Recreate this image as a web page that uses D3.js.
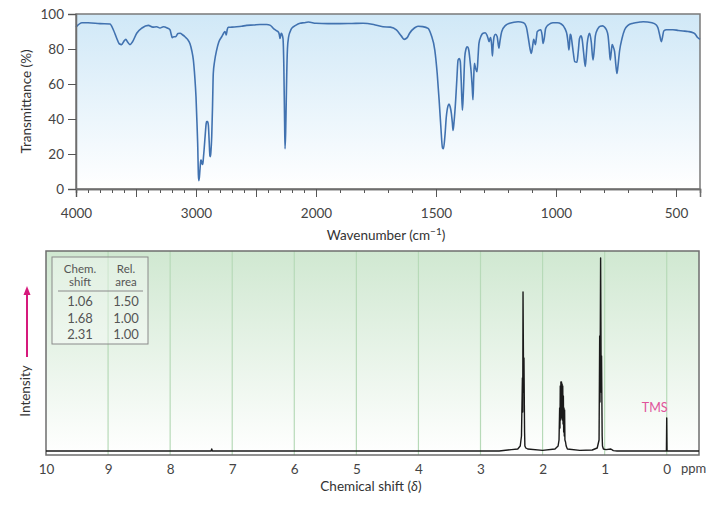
<!DOCTYPE html>
<html>
<head>
<meta charset="utf-8">
<script src="https://cdn.jsdelivr.net/npm/d3@7"></script>
<style>
  body { margin: 0; background: #fff; }
  text { font-family: Lato, "Open Sans", sans-serif; }
</style>
</head>
<body>
<div id="chart"></div>
<script>
// IR spectrum (wavenumber cm-1, transmittance %)
var irWave = [4000,3950,3900,3800,3717,3689,3660,3640,3620,3600,3585,3570,3550,3530,3494,3450,3397,3360,3328,3300,
  3272,3240,3217,3205,3198,3185,3170,3150,3133,3110,3092,3070,3050,3035,3022,3010,3000,2990,2986,2980,
  2977,2973,2967,2960,2956,2950,2944,2938,2933,2922,2915,2911,2904,2897,2890,2884,2880,2876,2869,2862,
  2856,2845,2828,2810,2786,2770,2760,2752,2748,2740,2731,2700,2661,2620,2578,2520,2467,2411,2380,2356,
  2330,2314,2305,2300,2295,2290,2284,2275,2268,2262,2258,2253,2248,2244,2238,2228,2215,2203,2170,2133,
  2100,2064,2000,1950,1900,1850,1804,1760,1721,1690,1665,1645,1633,1620,1610,1590,1575,1555,1533,1520,
  1505,1495,1487,1480,1473,1469,1463,1457,1450,1446,1441,1436,1432,1429,1425,1418,1413,1408,1403,1399,
  1395,1390,1386,1380,1375,1371,1367,1363,1358,1353,1349,1346,1343,1340,1335,1329,1325,1321,1312,1304,
  1295,1288,1283,1279,1275,1272,1268,1265,1262,1258,1252,1245,1241,1238,1234,1226,1210,1193,1158,1135,
  1124,1115,1108,1103,1098,1093,1089,1086,1082,1078,1064,1058,1054,1049,1043,1030,1013,995,978,962,
  954,950,946,943,941,938,935,928,922,913,907,902,896,891,885,878,874,870,865,860,
  853,846,841,836,826,816,806,797,790,783,778,774,770,766,761,756,750,746,742,735,
  725,714,700,679,650,637,600,582,575,568,561,556,551,540,513,490,471,450,429,420,
  411,400];
var irTrans = [92.5,95,95,94.5,94.3,91,86,83,82.5,84.5,85.5,84,82.5,84,89,92,93.5,92.5,92.7,92,
  92.7,92,91,88,86.5,87,87,88.8,89,88,87,85.5,83,79,73.7,64,52.7,34,26,8,
  4.8,6,11,16.5,16.6,14.5,14,18,22,32,37.5,38.5,38.5,36.5,27,19,18.5,21,30,48,
  66,73,79.4,84,87,89,90,89,88,91,92.4,92.5,92.7,93,93.5,93.7,94,94,93.5,91.8,
  90.5,89.7,88,86,87.5,89,88.5,86,70,40,23,32,50,65,80,87,90,91.8,93.5,94.7,
  95,95.4,94.7,94.5,94.5,94.6,94.7,94,92.7,92.5,90.9,87.5,85.5,86.5,89,92,93,92.8,91.8,88,
  79.4,66,50.9,36,23.5,23,30,41.3,47.5,48.6,47,43.2,38,33.5,38,50.9,63,73.7,74.5,73,
  62,45,55,75.6,80,81.3,81,79,73,66,58,51,63,71.8,69,67,75,83.2,87.5,89,
  89.3,88,86,84.2,86,86.5,82,76,82,87,88.4,87,83,80.5,84,90,93.5,94.7,95.6,95,
  92.7,86,80,77.5,81,85.5,84,82.5,86,90,91,88,83.2,86,91.8,94,95,95,94.3,91.5,
  88,84,79.4,84,88.4,88,85.5,78,72.8,72.4,79,86,87.5,85.5,78,70,76,83.2,87.5,89,
  84,73.7,79,87.5,91.5,93,93.2,92.4,91,87.5,80,73.7,78,82.5,81,78.6,70,66,70,79,
  86,91,93.5,94.7,95.4,95.6,95,93.7,92,88,84.2,87,90.3,91,91,90.6,90.3,90,89.3,88.5,
  86.7,85.5];
var irYTicks = [0, 20, 40, 60, 80, 100];
var irXLabels = [4000, 3000, 2000, 1500, 1000, 500];
var irXMajor = [4000, 3500, 3000, 2500, 2000, 1500, 1000, 500];

// 1H NMR spectrum (ppm, relative intensity)
var nmrShift = [10,7.34,7.33,7.32,2.7,2.5,2.4,2.36,2.34,2.325,2.32,2.315,2.305,2.3,2.29,2.285,2.27,2.24,2.0,1.8,
  1.75,1.735,1.725,1.72,1.715,1.71,1.705,1.70,1.695,1.69,1.685,1.68,1.675,1.67,1.665,1.66,1.655,1.65,1.645,1.64,
  1.63,1.62,1.60,1.4,1.2,1.12,1.09,1.08,1.075,1.065,1.055,1.05,1.04,1.035,1.02,0.98,0.9,0.86,0.8,0.02,
  0.005,0,-0.005,-0.52];
var nmrIntensity = [0.5,0.5,1.5,0.5,0.5,1.2,1.5,3,8,37,20,80,30,47,10,3,2,1.5,0.8,1.5,
  3,6,22,12,33,16,35,18,35,17,34,16,33,14,28,10,22,8,21,6,
  5,3,1.5,0.8,1,2,6,58,25,97,30,48,8,3,1.5,1.2,1.5,0.7,0.5,0.5,
  0.5,17,0.5,0.5];
var nmrXTicks = [10, 9, 8, 7, 6, 5, 4, 3, 2, 1, 0];
var tableShift = ["1.06", "1.68", "2.31"];
var tableArea = ["1.50", "1.00", "1.00"];

var W = 726, H = 505;

var svg = d3.select("#chart").append("svg")
    .attr("width", W)
    .attr("height", H);

var defs = svg.append("defs");
var gIr = defs.append("linearGradient").attr("id", "irBg").attr("x1", 0).attr("y1", 0).attr("x2", 0).attr("y2", 1);
gIr.append("stop").attr("offset", "0%").attr("stop-color", "#d0e8f7");
gIr.append("stop").attr("offset", "100%").attr("stop-color", "#ffffff");
var gNmr = defs.append("linearGradient").attr("id", "nmrBg").attr("x1", 0).attr("y1", 0).attr("x2", 0).attr("y2", 1);
gNmr.append("stop").attr("offset", "0%").attr("stop-color", "#d0e8d1");
gNmr.append("stop").attr("offset", "100%").attr("stop-color", "#ffffff");

// ---------- IR panel ----------
var irX = d3.scaleLinear().domain([4000, 2000, 400]).range([76, 316, 700]);
var irY = d3.scaleLinear().domain([0, 100]).range([189, 14]);

svg.append("rect")
    .attr("x", irX(4000)).attr("y", irY(100))
    .attr("width", irX(400) - irX(4000))
    .attr("height", irY(0) - irY(100))
    .style("fill", "url(#irBg)")
    .style("stroke", "#7a7a7a")
    .style("stroke-width", 1.5);

var irData = irWave.map(function(w, i) { return {w: w, t: irTrans[i]}; });
var irLine = d3.line()
    .x(function(d) { return irX(d.w); })
    .y(function(d) { return irY(d.t); })
    .curve(d3.curveMonotoneX);

svg.append("path")
    .datum(irData)
    .attr("d", irLine)
    .style("fill", "none")
    .style("stroke", "#4172b0")
    .style("stroke-width", 1.6);

// minor ticks every 100
var minor = d3.range(4000, 399, -100);
svg.append("g")
    .attr("class", "axis")
    .attr("transform", "translate(0," + irY(0) + ")")
    .call(d3.axisBottom(irX).tickValues(minor).tickSize(4).tickFormat(""));

svg.append("g")
    .attr("class", "axis")
    .attr("transform", "translate(0," + irY(0) + ")")
    .call(d3.axisBottom(irX).tickValues(irXMajor).tickSize(8).tickPadding(11)
        .tickFormat(function(d) { return irXLabels.indexOf(d) >= 0 ? d : ""; }));

svg.append("g")
    .attr("class", "axis")
    .attr("transform", "translate(" + irX(4000) + ",0)")
    .call(d3.axisLeft(irY).tickValues(irYTicks).tickSize(8).tickPadding(4));

svg.append("text")
    .attr("transform", "translate(31," + irY(50) + ") rotate(-90)")
    .style("text-anchor", "middle")
    .style("font-size", "13.5px")
    .style("fill", "#333")
    .text("Transmittance (%)");

var wl = svg.append("text")
    .attr("x", 386).attr("y", 240)
    .style("text-anchor", "middle")
    .style("font-size", "13.5px")
    .style("fill", "#333");
wl.append("tspan").text("Wavenumber (cm");
wl.append("tspan").attr("dy", -5).style("font-size", "10px").text("\u22121");
wl.append("tspan").attr("dy", 5).text(")");

// ---------- NMR panel ----------
var nX = d3.scaleLinear().domain([10, -0.52]).range([46, 699]);
var nY = d3.scaleLinear().domain([0, 100]).range([452, 252]);

svg.append("rect")
    .attr("x", nX(10)).attr("y", 251)
    .attr("width", nX(-0.52) - nX(10))
    .attr("height", 455 - 251)
    .style("fill", "url(#nmrBg)");

svg.append("g").selectAll("line")
    .data(nmrXTicks.slice(1))
    .enter().append("line")
    .attr("x1", function(d) { return nX(d); })
    .attr("x2", function(d) { return nX(d); })
    .attr("y1", 251).attr("y2", 455)
    .style("stroke", "#b7dab8")
    .style("stroke-width", 1.2);

svg.append("rect")
    .attr("x", nX(10)).attr("y", 251)
    .attr("width", nX(-0.52) - nX(10))
    .attr("height", 455 - 251)
    .style("fill", "none")
    .style("stroke", "#6e6e6e")
    .style("stroke-width", 1.5);

var nmrData = nmrShift.map(function(s, i) { return {s: s, v: nmrIntensity[i]}; });
svg.append("path")
    .datum(nmrData)
    .attr("d", d3.line()
        .x(function(d) { return nX(d.s); })
        .y(function(d) { return nY(d.v); }))
    .style("fill", "none")
    .style("stroke", "#1a1a1a")
    .style("stroke-width", 1.4)
    .style("stroke-linejoin", "round");

var nAxis = svg.append("g")
    .attr("class", "axis nmr")
    .attr("transform", "translate(0,455)")
    .call(d3.axisBottom(nX).tickValues(nmrXTicks).tickSize(0).tickPadding(9).tickFormat(d3.format("d")));
nAxis.select(".domain").remove();

svg.append("text")
    .attr("x", 681).attr("y", 473)
    .style("font-size", "13px")
    .style("fill", "#444")
    .text("ppm");

var cl = svg.append("text")
    .attr("x", 371).attr("y", 491)
    .style("text-anchor", "middle")
    .style("font-size", "13.5px")
    .style("fill", "#333");
cl.append("tspan").text("Chemical shift (");
cl.append("tspan").style("font-style", "italic").text("\u03b4");
cl.append("tspan").text(")");

svg.append("text")
    .attr("x", nX(0) - 12).attr("y", 412)
    .style("text-anchor", "middle")
    .style("font-size", "12.5px")
    .style("fill", "#e0529a")
    .text("TMS");

// intensity label + arrow
svg.append("text")
    .attr("transform", "translate(30,391) rotate(-90)")
    .style("text-anchor", "middle")
    .style("font-size", "13.5px")
    .style("fill", "#333")
    .text("Intensity");
svg.append("line")
    .attr("x1", 27).attr("x2", 27)
    .attr("y1", 357).attr("y2", 294)
    .style("stroke", "#d6197c")
    .style("stroke-width", 2);
svg.append("path")
    .attr("d", "M27,286 L23.5,295 L30.5,295 Z")
    .style("fill", "#d6197c");

// integration table
var tb = svg.append("g").attr("transform", "translate(52,257)");
tb.append("rect")
    .attr("width", 96).attr("height", 87)
    .style("fill", "#ffffff").style("fill-opacity", 0.35)
    .style("stroke", "#8a8a8a").style("stroke-width", 1);
tb.append("line")
    .attr("x1", 6).attr("x2", 91).attr("y1", 34).attr("y2", 34)
    .style("stroke", "#8a8a8a");
var heads = [["Chem.", "shift"], ["Rel.", "area"]];
var colX = [28, 74];
heads.forEach(function(h, i) {
    h.forEach(function(t, j) {
        tb.append("text")
            .attr("x", colX[i]).attr("y", 15.5 + j * 13.5)
            .style("text-anchor", "middle")
            .style("font-size", "11.5px")
            .style("fill", "#555")
            .text(t);
    });
});
tableShift.forEach(function(s, i) {
    tb.append("text").attr("x", colX[0]).attr("y", 49 + i * 16.5)
        .style("text-anchor", "middle").style("font-size", "13px").style("fill", "#555").text(s);
    tb.append("text").attr("x", colX[1]).attr("y", 49 + i * 16.5)
        .style("text-anchor", "middle").style("font-size", "13px").style("fill", "#555").text(tableArea[i]);
});

d3.selectAll(".axis path")
    .style("stroke", "#6e6e6e")
    .style("stroke-width", 1.5);
d3.selectAll(".axis line")
    .style("stroke", "#555");
d3.selectAll(".axis text")
    .style("font-family", "Lato, 'Open Sans', sans-serif")
    .style("font-size", "13.5px")
    .style("fill", "#444");
</script>
</body>
</html>
